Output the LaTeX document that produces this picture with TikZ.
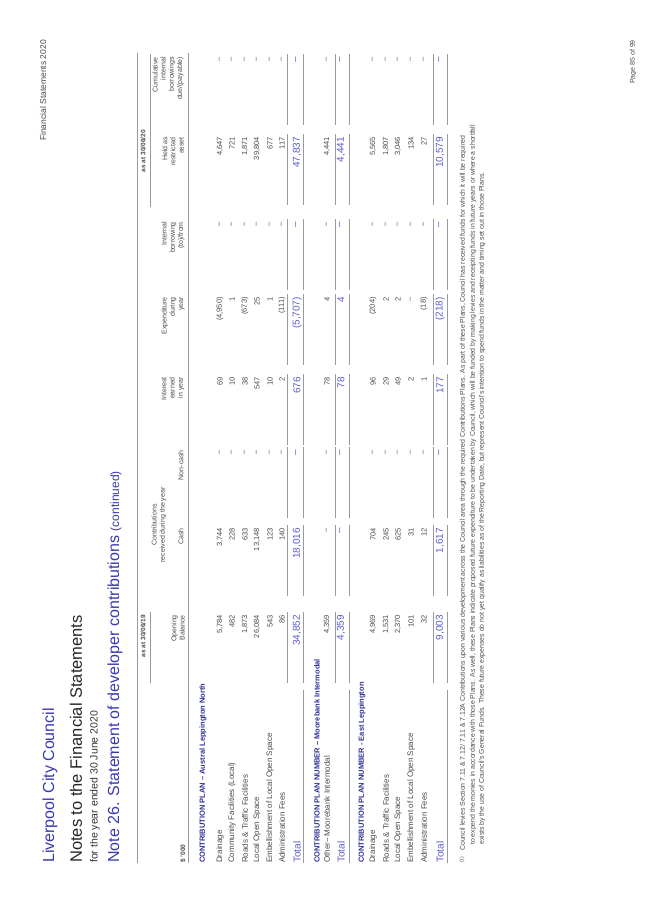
\documentclass[tikz,border=0pt]{standalone}
\usepackage{fontspec}
\setmainfont{Liberation Sans}
\definecolor{ttl}{HTML}{3A3AB0}
\definecolor{tot}{HTML}{5A5ACC}
\definecolor{hdr}{HTML}{2E2E9A}
\definecolor{txt}{HTML}{4A4A4A}
\definecolor{rul}{HTML}{9A9A9A}
\tikzset{
 lab/.style={anchor=west,inner sep=0pt,font=\fontsize{8}{9}\selectfont,text=txt},
 num/.style={anchor=east,inner sep=0pt,font=\fontsize{7.5}{9}\selectfont,text=txt},
 totn/.style={anchor=east,inner sep=0pt,font=\fontsize{10}{11}\selectfont,text=tot},
 totl/.style={anchor=west,inner sep=0pt,font=\fontsize{10}{11}\selectfont,text=tot},
 sec/.style={anchor=west,inner sep=0pt,font=\fontsize{7.5}{9}\selectfont\bfseries,text=hdr},
 hd/.style={anchor=east,inner sep=0pt,align=right,font=\fontsize{7}{8.2}\selectfont,text=txt},
 rl/.style={draw=rul,line width=0.8pt},
 foot/.style={anchor=west,inner sep=0pt,font=\fontsize{6.9}{8}\selectfont,text=txt}
}
\newcommand\tabrow[4]{%
 \foreach \val [count=\i] in {#4} {%
  \pgfmathsetmacro\rr{{305,392,470,543,623,698,783,863}[\i-1]}%
  \node[#3] (#1-\i) at (\rr,#2) {\val};}}
\newcommand\colrules[2]{%
 \foreach \rr [count=\i] in {305,392,470,543,623,698,783,863} {%
  \coordinate (#1a\i) at (\rr-68,#2); \coordinate (#1b\i) at (\rr+3,#2);
  \draw[rl] (#1a\i) -- (#1b\i);}}
\begin{document}
\begin{tikzpicture}[x=1pt,y=1pt]
\useasboundingbox (-653,0) rectangle (0,920);
\begin{scope}[rotate=90,transform shape]
% titles
\node[anchor=west,inner sep=0pt,font=\fontsize{16}{18}\selectfont,text=ttl] (t1) at (57,603) {Liverpool City Council};
\node[anchor=west,inner sep=0pt,font=\fontsize{16.5}{18}\selectfont,text=black!85] (t2) at (57,577) {Notes to the Financial Statements};
\node[anchor=west,inner sep=0pt,font=\fontsize{10.5}{12}\selectfont,text=black!80] (t3) at (57,558) {for the year ended 30 June 2020};
\node[anchor=west,inner sep=0pt,font=\fontsize{16}{18}\selectfont,text=ttl] (t4) at (57,538) {Note 26. Statement of developer contributions {\fontsize{12}{14}\selectfont(continued)}};
\node[anchor=east,inner sep=0pt,font=\fontsize{8.5}{10}\selectfont,text=txt] (fs) at (880,610) {Financial Statements 2020};
\node[anchor=east,inner sep=0pt,font=\fontsize{7}{8}\selectfont,text=txt] (pg) at (880,20) {Page 85 of 99};
% header
\coordinate (tr1) at (57,516); \coordinate (tr2) at (867,516);
\draw[rl] (tr1) -- (tr2);
\node[hd,font=\fontsize{6.5}{8}\selectfont\bfseries] (as1) at (305,510) {as at 30/06/19};
\node[hd,font=\fontsize{6.5}{8}\selectfont\bfseries] (as2) at (790,510) {as at 30/06/20};
\coordinate (g1a) at (237,503); \coordinate (g1b) at (308,503);
\coordinate (g2a) at (713,503); \coordinate (g2b) at (866,503);
\draw[rl] (g1a) -- (g1b); \draw[rl] (g2a) -- (g2b);
\node[hd,align=center,anchor=center] (hc) at (395,494) {Contributions\\received during the year};
\node[hd] (h1) at (305,475) {Opening\\Balance};
\node[hd] (h2) at (392,472) {Cash};
\node[hd] (h3) at (470,472) {Non-cash};
\node[hd] (h4) at (543,480) {Interest\\earned\\in year};
\node[hd] (h5) at (623,480) {Expenditure\\during\\year};
\node[hd] (h6) at (698,480) {Internal\\borrowing\\(to)/from};
\node[hd] (h7) at (783,480) {Held as\\restricted\\asset};
\node[hd] (h8) at (863,485) {Cumulative\\internal\\borrowings\\due/(payable)};
\node[anchor=west,inner sep=0pt,font=\fontsize{6.5}{8}\selectfont\bfseries,text=txt] (usd) at (57,470) {\$ '000};
\coordinate (hr1) at (57,465); \coordinate (hr2) at (867,465);
\draw[rl] (hr1) -- (hr2);
% section 1
\node[sec] (s1) at (57,450) {CONTRIBUTION PLAN – Austral Leppington North};
\node[lab] (l11) at (57,433) {Drainage};
\node[lab] (l12) at (57,421) {Community Facilities (Local)};
\node[lab] (l13) at (57,408) {Roads \& Traffic Facilities};
\node[lab] (l14) at (57,396) {Local Open Space};
\node[lab] (l15) at (57,383) {Embellishment of Local Open Space};
\node[lab] (l16) at (57,371) {Administration Fees};
\node[totl] (l17) at (57,356) {Total};
\tabrow{r11}{433}{num}{{5,784},{3,744},–,69,{(4,950)},–,{4,647},–}
\tabrow{r12}{421}{num}{482,228,–,10,1,–,721,–}
\tabrow{r13}{408}{num}{{1,873},633,–,38,{(673)},–,{1,871},–}
\tabrow{r14}{396}{num}{{26,084},{13,148},–,547,25,–,{39,804},–}
\tabrow{r15}{383}{num}{543,123,–,10,1,–,677,–}
\tabrow{r16}{371}{num}{86,140,–,2,{(111)},–,117,–}
\colrules{p1}{366}
\tabrow{r17}{356}{totn}{{34,852},{18,016},–,676,{(5,707)},–,{47,837},–}
\colrules{q1}{350}
\coordinate (ql1a) at (57,350); \coordinate (ql1b) at (230,350); \draw[rl] (ql1a) -- (ql1b);
% section 2
\node[sec] (s2) at (57,336) {CONTRIBUTION PLAN NUMBER – Moorebank Intermodal};
\node[lab] (l21) at (57,326) {Other– Moorebank Intermodal};
\tabrow{r21}{326}{num}{{4,359},–,–,78,4,–,{4,441},–}
\colrules{p2}{318}
\node[totl] (l22) at (57,312) {Total};
\tabrow{r22}{312}{totn}{{4,359},–,–,78,4,–,{4,441},–}
\colrules{q2}{304}
\coordinate (ql2a) at (57,304); \coordinate (ql2b) at (230,304); \draw[rl] (ql2a) -- (ql2b);
% section 3
\node[sec] (s3) at (57,291) {CONTRIBUTION PLAN NUMBER - East Leppington};
\node[lab] (l31) at (57,280) {Drainage};
\node[lab] (l32) at (57,267) {Roads \& Traffic Facilities};
\node[lab] (l33) at (57,255) {Local Open Space};
\node[lab] (l34) at (57,242) {Embellishment of Local Open Space};
\node[lab] (l35) at (57,229) {Administration Fees};
\node[totl] (l36) at (57,213) {Total};
\tabrow{r31}{280}{num}{{4,969},704,–,96,{(204)},–,{5,565},–}
\tabrow{r32}{267}{num}{{1,531},245,–,29,2,–,{1,807},–}
\tabrow{r33}{255}{num}{{2,370},625,–,49,2,–,{3,046},–}
\tabrow{r34}{242}{num}{101,31,–,2,–,–,134,–}
\tabrow{r35}{229}{num}{32,12,–,1,{(18)},–,27,–}
\colrules{p3}{220}
\tabrow{r36}{213}{totn}{{9,003},{1,617},–,177,{(218)},–,{10,579},–}
\colrules{q3}{206}
\coordinate (ql3a) at (57,206); \coordinate (ql3b) at (230,206); \draw[rl] (ql3a) -- (ql3b);
% footnote
\node[foot,font=\fontsize{5}{6}\selectfont] (fn0) at (57,191) {(1)};
\node[foot] (fn1) at (69,190) {Council levies Section 7.11 \& 7.12/ 7.11 \& 7.12A Contributions upon various development across the Council area through the required Contributions Plans. As part of these Plans, Council has received funds for which it will be required};
\node[foot] (fn2) at (75,180) {to expend the monies in accordance with those Plans. As well, these Plans indicate proposed future expenditure to be undertaken by Council, which will be funded by making levies and receipting funds in future years or where a shortfall};
\node[foot] (fn3) at (75,171) {exists by the use of Council's General Funds. These future expenses do not yet qualify as liabilities as of the Reporting Date, but represent Council's intention to spend funds in the matter and timing set out in those Plans.};
\end{scope}
\end{tikzpicture}
\end{document}
